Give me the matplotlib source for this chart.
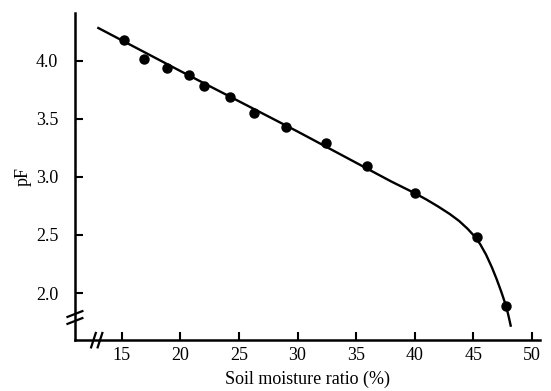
import numpy as np
import matplotlib.pyplot as plt

# measured points
moisture = [15.2, 16.9, 18.9, 20.7, 22.0, 24.2, 26.3, 29.0, 32.4, 35.9, 40.0, 45.3, 47.8]
pf = [4.18, 4.01, 3.94, 3.88, 3.78, 3.69, 3.55, 3.43, 3.29, 3.09, 2.86, 2.48, 1.89]

# hand-drawn fitted curve
curve_x = [13.0, 20.0, 30.0, 38.0, 40.0, 41.0, 42.0, 43.0, 43.8, 44.5, 45.1, 45.6, 46.1,
           46.6, 47.0, 47.4, 47.8, 48.0, 48.2]
curve_y = [4.28, 3.91, 3.39, 2.96, 2.86, 2.805, 2.745, 2.68, 2.62, 2.555, 2.49, 2.42, 2.33,
           2.22, 2.12, 2.01, 1.89, 1.81, 1.72]

xticks = [15, 20, 25, 30, 35, 40, 45, 50]
yticks = [2.0, 2.5, 3.0, 3.5, 4.0]

plt.rcParams['font.family'] = ['Liberation Serif', 'DejaVu Serif']

fig = plt.figure(figsize=(5.51, 3.91), dpi=100)
ax = fig.add_axes([0.136, 0.130, 0.844, 0.837])

ax.plot(curve_x, curve_y, color='black', lw=1.7)
ax.plot(moisture, pf, 'o', color='black', ms=6.5)

ax.set_xlim(11.0, 50.7)
ax.set_ylim(1.595, 4.41)
ax.set_xticks(xticks)
ax.set_xticklabels([str(t) for t in xticks])
ax.set_yticks(yticks)
ax.set_yticklabels([f'{t:.1f}' for t in yticks])

for s in ['top', 'right']:
    ax.spines[s].set_visible(False)
for s in ['left', 'bottom']:
    ax.spines[s].set_linewidth(1.8)
ax.tick_params(direction='in', length=6, width=1.5, labelsize=13)
ax.tick_params(axis='y', pad=12)
ax.tick_params(axis='x', pad=5)

# axis break marks
trans_y = ax.get_yaxis_transform()
trans_x = ax.get_xaxis_transform()
for dy in (-0.03, 0.03):
    ax.plot([-0.016, 0.016], [1.79 + dy - 0.025, 1.79 + dy + 0.025], color='black', lw=1.6,
            transform=trans_y, clip_on=False)
for dx in (-0.28, 0.28):
    ax.plot([12.86 + dx - 0.2, 12.86 + dx + 0.2], [-0.022, 0.022], color='black', lw=1.6,
            transform=trans_x, clip_on=False)

ax.set_xlabel('Soil moisture ratio (%)', fontsize=13, labelpad=5)
ax.set_ylabel('pF', fontsize=13, labelpad=3)

fig.savefig('out.png', dpi=100)
